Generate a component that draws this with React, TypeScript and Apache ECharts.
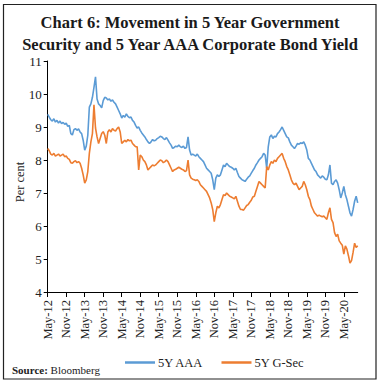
import React, { useEffect, useRef } from "react";
import * as echarts from "echarts";

const MONTHS = ["Jan", "Feb", "Mar", "Apr", "May", "Jun", "Jul", "Aug", "Sep", "Oct", "Nov", "Dec"];

// semi-monthly observations, May 2012 to Sep 2020 (1st and 16th of each month)
const aaa5y: number[] = [
  9.38, 9.30, 9.22, 9.18, 9.25, 9.15, 9.20, 9.12, 9.18, 9.10,
  9.14, 9.08, 9.12, 9.02, 9.05, 8.80, 8.76, 8.92, 8.95, 8.90,
  8.94, 8.85, 8.80, 8.60, 8.30, 8.42, 8.75, 9.60, 9.70, 9.90,
  10.20, 10.52, 9.85, 9.70, 9.65, 9.58, 9.80, 9.90, 9.88, 9.82,
  9.85, 9.78, 9.82, 9.75, 9.70, 9.60, 9.50, 9.40, 9.27, 9.35,
  9.30, 9.40, 9.32, 9.28, 9.30, 9.20, 9.15, 9.05, 8.97, 9.00,
  8.90, 8.82, 8.76, 8.70, 8.62, 8.55, 8.50, 8.55, 8.62, 8.58,
  8.60, 8.65, 8.68, 8.72, 8.70, 8.65, 8.62, 8.68, 8.60, 8.52,
  8.45, 8.35, 8.38, 8.42, 8.40, 8.45, 8.40, 8.38, 8.42, 8.35,
  8.38, 8.70, 8.30, 8.15, 8.18, 8.15, 8.12, 8.18, 8.10, 8.05,
  8.00, 7.95, 7.85, 7.75, 7.70, 7.65, 7.60, 7.40, 7.10, 7.45,
  7.55, 7.50, 7.55, 7.70, 7.85, 7.80, 7.90, 7.85, 7.80, 7.78,
  7.75, 7.70, 7.75, 7.62, 7.50, 7.45, 7.40, 7.38, 7.35, 7.42,
  7.48, 7.52, 7.60, 7.68, 7.75, 7.85, 7.92, 8.00, 8.05, 8.10,
  8.20, 8.15, 7.75, 8.40, 8.70, 8.76, 8.65, 8.72, 8.70, 8.80,
  8.85, 8.92, 9.00, 8.90, 8.80, 8.70, 8.67, 8.55, 8.45, 8.40,
  8.35, 8.42, 8.50, 8.48, 8.52, 8.50, 8.55, 8.45, 8.30, 8.05,
  8.00, 7.90, 7.80, 7.70, 7.65, 7.55, 7.50, 7.45, 7.52, 7.48,
  7.42, 7.40, 7.55, 7.85, 7.30, 7.25, 7.35, 7.40, 7.30, 7.10,
  6.85, 7.00, 7.20, 6.95, 6.80, 6.60, 6.40, 6.30, 6.50, 6.75,
  6.90, 6.70,
];

const gsec5y: number[] = [
  8.35, 8.28, 8.18, 8.15, 8.20, 8.12, 8.15, 8.18, 8.12, 8.15,
  8.18, 8.10, 8.12, 8.05, 8.02, 7.92, 7.90, 7.95, 7.98, 7.92,
  7.95, 7.90, 7.75, 7.55, 7.30, 7.40, 7.65, 8.20, 8.55, 8.80,
  9.67, 8.97, 8.70, 8.50, 8.65, 8.80, 8.86, 8.75, 8.50, 8.85,
  8.92, 8.85, 8.95, 8.90, 8.88, 8.95, 9.00, 8.85, 8.50, 8.55,
  8.60, 8.55, 8.62, 8.58, 8.60, 8.50, 8.45, 8.40, 8.40, 7.70,
  8.15, 8.10, 8.00, 7.95, 7.85, 7.70, 7.75, 7.80, 7.85, 7.82,
  7.85, 7.90, 7.95, 8.00, 7.98, 7.92, 7.95, 8.00, 7.95, 7.85,
  7.75, 7.65, 7.70, 7.72, 7.75, 7.78, 7.75, 7.72, 7.70, 7.65,
  7.68, 8.00, 7.55, 7.45, 7.42, 7.40, 7.38, 7.40, 7.35, 7.25,
  7.20, 7.15, 7.10, 7.05, 6.95, 6.85, 6.70, 6.50, 6.13, 6.40,
  6.60, 6.55, 6.65, 6.80, 6.95, 6.92, 7.00, 6.95, 6.90, 6.88,
  6.85, 6.82, 6.90, 6.75, 6.60, 6.50, 6.50, 6.48, 6.55, 6.62,
  6.65, 6.72, 6.78, 6.88, 6.90, 7.05, 7.20, 7.35, 7.30, 7.25,
  7.20, 7.15, 7.80, 7.70, 7.85, 7.95, 7.90, 8.00, 7.95, 8.05,
  8.10, 8.15, 8.20, 8.05, 7.95, 7.80, 7.70, 7.55, 7.40, 7.30,
  7.25, 7.30, 7.20, 7.10, 7.15, 7.20, 7.35, 7.25, 7.10, 6.90,
  6.80, 6.60, 6.50, 6.40, 6.35, 6.30, 6.33, 6.30, 6.28, 6.30,
  6.25, 6.20, 6.40, 6.55, 6.20, 6.10, 5.80, 5.68, 5.75, 5.55,
  5.48, 5.42, 5.15, 5.40, 5.30, 5.10, 4.88, 4.95, 5.20, 5.48,
  5.35, 5.40,
];

const seriesNames = ["5Y AAA", "5Y G-Sec"];
const yTicks = [4, 5, 6, 7, 8, 9, 10, 11];
const titleLines = [
  "Chart 6: Movement in 5 Year Government",
  "Security and 5 Year AAA Corporate Bond Yield",
];

// category labels: first point of each month is labelled "Mon-YY"
const categories: string[] = aaa5y.map((_, i) => {
  const m = Math.floor(i / 2);
  const monthIdx = (4 + m) % 12;
  const year = 12 + Math.floor((4 + m) / 12);
  const base = `${MONTHS[monthIdx]}-${year}`;
  return i % 2 === 0 ? base : `${base} (16)`;
});

const SERIF = "'Liberation Serif', 'Times New Roman', serif";

export default function App() {
  const ref = useRef<HTMLDivElement>(null);
  useEffect(() => {
    document.body.style.margin = "0";
    if (!ref.current) return;
    const chart = echarts.init(ref.current, undefined, { renderer: "svg" });
    const titleStyle = {
      fontFamily: SERIF,
      fontWeight: "bold",
      fontSize: 16.5,
      fill: "#1a1a1a",
      textAlign: "center",
      textVerticalAlign: "middle",
    };
    chart.setOption({
      animation: false,
      backgroundColor: "#ffffff",
      graphic: [
        {
          type: "rect",
          shape: { x: 3.5, y: 4.5, width: 372.5, height: 374.5 },
          style: { fill: "none", stroke: "#222", lineWidth: 1.2 },
          silent: true,
        },
        { type: "text", x: 190, y: 22, style: { ...titleStyle, text: titleLines[0] } },
        { type: "text", x: 190, y: 44, style: { ...titleStyle, text: titleLines[1] } },
        {
          type: "text",
          x: 20,
          y: 182,
          rotation: Math.PI / 2,
          style: {
            text: "Per cent",
            fontFamily: SERIF,
            fontSize: 12.5,
            fill: "#222",
            textAlign: "center",
            textVerticalAlign: "middle",
          },
        },
        {
          type: "text",
          left: 12,
          top: 364,
          style: {
            text: "{b|Source:} Bloomberg",
            fontFamily: SERIF,
            fontSize: 11,
            fill: "#222",
            rich: {
              b: { fontFamily: SERIF, fontSize: 11, fontWeight: "bold", fill: "#222" },
            },
          },
        },
      ],
      legend: {
        data: seriesNames,
        left: 120,
        top: 351,
        icon: "rect",
        itemWidth: 30,
        itemHeight: 2.5,
        itemGap: 18,
        textStyle: { fontFamily: SERIF, fontSize: 12.5, color: "#222", padding: [0, 0, 0, -2] },
      },
      grid: { left: 47.7, right: 24.3, top: 61, bottom: 92, containLabel: false },
      xAxis: {
        type: "category",
        data: categories,
        boundaryGap: false,
        axisLine: { lineStyle: { color: "#000", width: 1 } },
        axisTick: {
          show: true,
          length: 5,
          inside: false,
          interval: (i: number) => i % 12 === 0,
          lineStyle: { color: "#000" },
        },
        axisLabel: {
          interval: (i: number) => i % 12 === 0,
          rotate: 90,
          margin: 8,
          fontFamily: SERIF,
          fontSize: 12.5,
          color: "#222",
        },
        splitLine: { show: false },
      },
      yAxis: {
        type: "value",
        min: yTicks[0],
        max: yTicks[yTicks.length - 1],
        interval: 1,
        axisLine: { show: true, lineStyle: { color: "#000", width: 1 } },
        axisTick: { show: true, length: 4, inside: false, lineStyle: { color: "#000" } },
        axisLabel: { fontFamily: SERIF, fontSize: 13, color: "#222", margin: 6 },
        splitLine: { show: false },
      },
      series: [
        {
          name: seriesNames[0],
          type: "line",
          data: aaa5y,
          showSymbol: false,
          symbol: "none",
          lineStyle: { color: "#5B9BD5", width: 1.6 },
          itemStyle: { color: "#5B9BD5" },
        },
        {
          name: seriesNames[1],
          type: "line",
          data: gsec5y,
          showSymbol: false,
          symbol: "none",
          lineStyle: { color: "#ED7D31", width: 1.6 },
          itemStyle: { color: "#ED7D31" },
        },
      ],
    });
    return () => chart.dispose();
  }, []);
  return <div ref={ref} style={{ width: 382, height: 384 }} />;
}
